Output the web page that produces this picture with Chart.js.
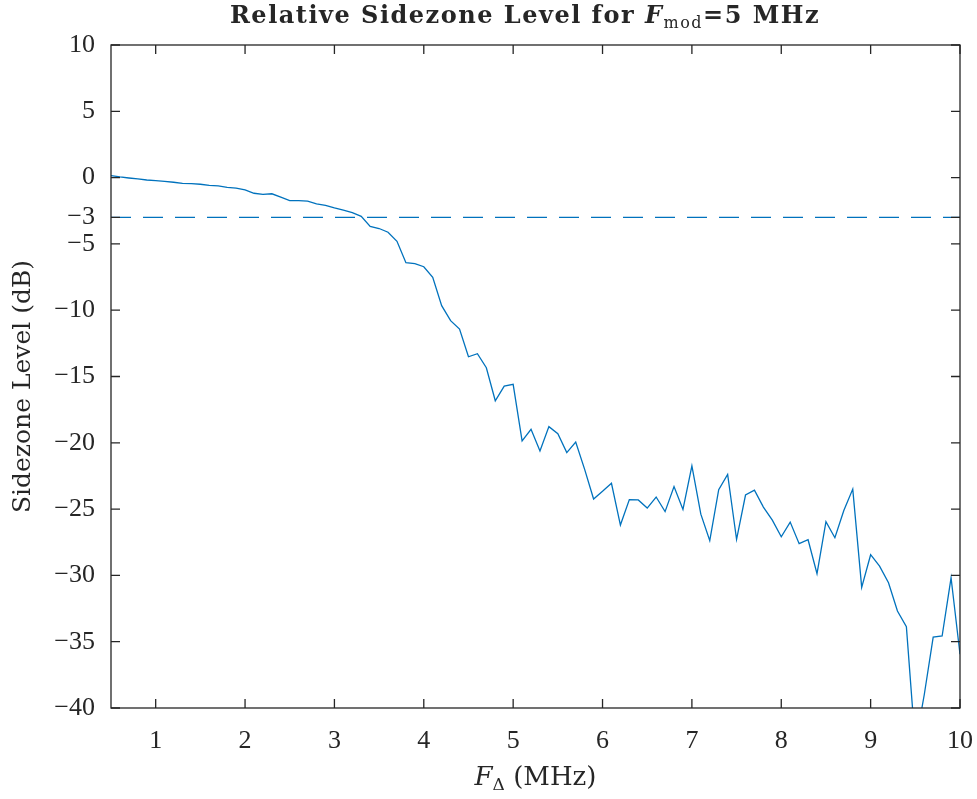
<!DOCTYPE html>
<html>
<head>
<meta charset="utf-8">
<script src="https://cdn.jsdelivr.net/npm/chart.js@4.4.1/dist/chart.umd.min.js"></script>
<style>
  body { margin: 0; background: #ffffff; }
  #wrap { width: 977px; height: 799px; }
</style>
</head>
<body>
<div id="wrap"><canvas id="sidezone" width="977" height="799"></canvas></div>
<script>
// frequency offsets (MHz)
var freqs = [0.5, 0.6, 0.7, 0.8, 0.9, 1.0, 1.1, 1.2, 1.3, 1.4,
  1.5, 1.6, 1.7, 1.8, 1.9, 2.0, 2.1, 2.2, 2.3, 2.4,
  2.5, 2.6, 2.7, 2.8, 2.9, 3.0, 3.1, 3.2, 3.3, 3.4,
  3.5, 3.6, 3.7, 3.8, 3.9, 4.0, 4.1, 4.2, 4.3, 4.4,
  4.5, 4.6, 4.7, 4.8, 4.9, 5.0, 5.1, 5.2, 5.3, 5.4,
  5.5, 5.6, 5.7, 5.8, 5.9, 6.0, 6.1, 6.2, 6.3, 6.4,
  6.5, 6.6, 6.7, 6.8, 6.9, 7.0, 7.1, 7.2, 7.3, 7.4,
  7.5, 7.6, 7.7, 7.8, 7.9, 8.0, 8.1, 8.2, 8.3, 8.4,
  8.5, 8.6, 8.7, 8.8, 8.9, 9.0, 9.1, 9.2, 9.3, 9.4,
  9.5, 9.6, 9.7, 9.8, 9.9, 10.0];

// sidezone level (dB)
var levels = [0.15, 0.05, -0.03, -0.10, -0.18, -0.23, -0.28, -0.35, -0.43, -0.45,
  -0.50, -0.58, -0.63, -0.73, -0.80, -0.93, -1.18, -1.26, -1.22, -1.48,
  -1.73, -1.73, -1.78, -1.98, -2.09, -2.29, -2.46, -2.64, -2.92, -3.68,
  -3.84, -4.12, -4.80, -6.42, -6.49, -6.72, -7.52, -9.66, -10.79, -11.42,
  -13.51, -13.28, -14.34, -16.83, -15.72, -15.59, -19.86, -18.98, -20.62, -18.78,
  -19.31, -20.74, -19.94, -22.0, -24.24, -23.66, -23.05, -26.20, -24.28, -24.31,
  -24.92, -24.09, -25.19, -23.30, -25.02, -21.74, -25.38, -27.38, -23.54, -22.38,
  -27.29, -23.94, -23.57, -24.85, -25.83, -27.09, -25.98, -27.61, -27.31, -29.87,
  -25.95, -27.16, -25.10, -23.49, -30.90, -28.44, -29.30, -30.55, -32.69, -33.87,
  -42.8, -39.0, -34.65, -34.57, -30.18, -35.95];

// -3 dB reference line
var refX = [0.5, 10];
var refY = [-3, -3];

var xTicks = [1, 2, 3, 4, 5, 6, 7, 8, 9, 10];
var yTicks = [-40, -35, -30, -25, -20, -15, -10, -5, -3, 0, 5, 10];

var lineColor = '#0072BD';
var axisColor = '#262626';
var serif = '"Liberation Serif", "DejaVu Serif", serif';
var wide = '"DejaVu Serif", "Liberation Serif", serif';

function fmt(v) {
  return v < 0 ? '\u2212' + Math.abs(v) : String(v);
}

// draws a run of text pieces centred on cx
function drawRun(ctx, parts, cx, y, spacing) {
  var w = 0;
  ctx.letterSpacing = spacing || '0px';
  parts.forEach(function (p) { ctx.font = p.f; p.w = ctx.measureText(p.t).width; w += p.w; });
  var x = cx - w / 2;
  parts.forEach(function (p) { ctx.font = p.f; ctx.fillText(p.t, x, y + p.dy); x += p.w; });
  ctx.letterSpacing = '0px';
}

// draw the box, inward ticks, title and axis labels
var decorations = {
  id: 'decorations',
  afterDraw: function (chart) {
    var ctx = chart.ctx;
    var a = chart.chartArea;
    var xs = chart.scales.x;
    var ys = chart.scales.y;
    var tl = 9;
    ctx.save();
    ctx.strokeStyle = axisColor;
    ctx.lineWidth = 1.3;
    ctx.strokeRect(a.left, a.top, a.right - a.left, a.bottom - a.top);
    ctx.beginPath();
    xTicks.forEach(function (t) {
      var px = xs.getPixelForValue(t);
      ctx.moveTo(px, a.bottom); ctx.lineTo(px, a.bottom - tl);
      ctx.moveTo(px, a.top); ctx.lineTo(px, a.top + tl);
    });
    yTicks.forEach(function (t) {
      var py = ys.getPixelForValue(t);
      ctx.moveTo(a.left, py); ctx.lineTo(a.left + tl, py);
      ctx.moveTo(a.right, py); ctx.lineTo(a.right - tl, py);
    });
    ctx.stroke();

    ctx.fillStyle = axisColor;
    ctx.textBaseline = 'alphabetic';

    // title
    drawRun(ctx, [
      { t: 'Relative Sidezone Level for ', f: 'bold 24px ' + wide, dy: 0 },
      { t: 'F', f: 'italic bold 24px ' + wide, dy: 0 },
      { t: 'mod', f: '16px ' + wide, dy: 5 },
      { t: '=5 MHz', f: 'bold 24px ' + wide, dy: 0 }
    ], 525, 23, '1.5px');

    // x axis label
    drawRun(ctx, [
      { t: 'F', f: 'italic 26px ' + wide, dy: 0 },
      { t: '\u0394', f: '17px ' + wide, dy: 5 },
      { t: ' (MHz)', f: '26px ' + wide, dy: 0 }
    ], (a.left + a.right) / 2, 785);

    // y axis label
    ctx.translate(30, (a.top + a.bottom) / 2 + 10);
    ctx.rotate(-Math.PI / 2);
    ctx.font = '25px ' + wide;
    ctx.textAlign = 'center';
    ctx.fillText('Sidezone Level (dB)', 0, 0);
    ctx.restore();
  }
};

var chart = new Chart(document.getElementById('sidezone'), {
  type: 'line',
  data: {
    datasets: [{
      data: freqs.map(function (f, i) { return { x: f, y: levels[i] }; }),
      borderColor: lineColor,
      borderWidth: 1.3,
      pointRadius: 0,
      tension: 0,
      fill: false
    }, {
      data: refX.map(function (f, i) { return { x: f, y: refY[i] }; }),
      borderColor: lineColor,
      borderWidth: 1.3,
      borderDash: [20, 12],
      pointRadius: 0,
      fill: false
    }]
  },
  options: {
    responsive: false,
    animation: false,
    layout: { padding: { top: 45, right: 17, left: 0, bottom: 0 } },
    plugins: {
      legend: { display: false },
      tooltip: { enabled: false },
      title: { display: false }
    },
    scales: {
      x: {
        type: 'linear',
        min: 0.5,
        max: 10,
        afterBuildTicks: function (scale) {
          scale.ticks = xTicks.map(function (v) { return { value: v }; });
        },
        afterFit: function (scale) {
          scale.height = 91;
          scale.paddingLeft = 0;
          scale.paddingRight = 0;
        },
        grid: { display: false, drawTicks: false },
        border: { display: false },
        ticks: {
          padding: 18,
          color: axisColor,
          maxRotation: 0,
          font: { family: serif, size: 26 },
          callback: function (v) { return fmt(v); }
        }
      },
      y: {
        min: -40,
        max: 10,
        afterBuildTicks: function (scale) {
          scale.ticks = yTicks.map(function (v) { return { value: v }; });
        },
        afterFit: function (scale) {
          scale.width = 111;
          scale.paddingTop = 0;
          scale.paddingBottom = 0;
        },
        grid: { display: false, drawTicks: false },
        border: { display: false },
        ticks: {
          padding: 16,
          color: axisColor,
          font: { family: serif, size: 26 },
          callback: function (v) { return fmt(v); }
        }
      }
    }
  },
  plugins: [decorations]
});
</script>
</body>
</html>
